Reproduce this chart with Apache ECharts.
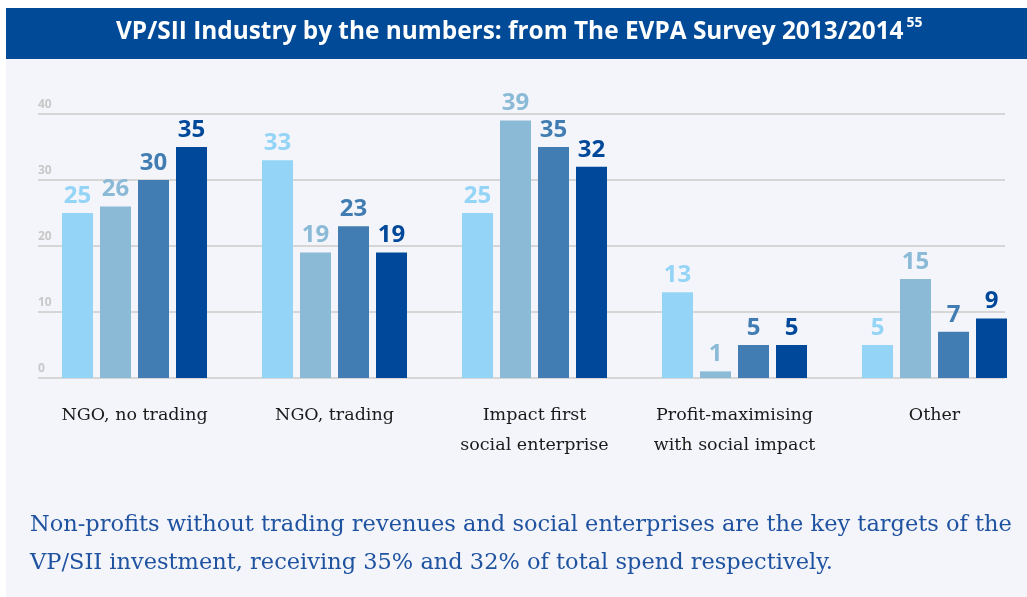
<!DOCTYPE html>
<html>
<head>
<meta charset="utf-8">
<script src="https://cdn.jsdelivr.net/npm/echarts@6/dist/echarts.min.js"></script>
<style>
  html, body { margin: 0; padding: 0; background: #fff; }
  #chart { width: 1027px; height: 597px; }
</style>
</head>
<body>
<div id="chart"></div>
<script>
// categories and values
var categories = ["NGO, no trading", "NGO, trading", "Impact first\nsocial enterprise", "Profit-maximising\nwith social impact", "Other"];
var seriesA = [25, 33, 25, 13, 5];
var seriesB = [26, 19, 39, 1, 15];
var seriesC = [30, 23, 35, 5, 7];
var seriesD = [35, 19, 32, 5, 9];
var barColors = ["#94d4f6", "#8bbad7", "#417db2", "#004899"];
var yTicks = [0, 10, 20, 30, 40];

var titleText = "VP/SII Industry by the numbers: from The EVPA Survey 2013/2014";
var titleNote = "55";
var footLine1 = "Non-profits without trading revenues and social enterprises are the key targets of the";
var footLine2 = "VP/SII investment, receiving 35% and 32% of total spend respectively.";

var myChart = echarts.init(document.getElementById("chart"));

function bar(name, data, idx) {
  return {
    name: name,
    type: "bar",
    xAxisIndex: 0,
    yAxisIndex: 0,
    barWidth: 31,
    barGap: "22.6%",
    data: data,
    itemStyle: { color: barColors[idx] },
    label: {
      show: true,
      position: "top",
      distance: 5,
      color: barColors[idx],
      fontFamily: "Open Sans",
      fontWeight: "bold",
      fontSize: 24
    }
  };
}

myChart.setOption({
  backgroundColor: "#ffffff",
  animation: false,
  graphic: [
    { type: "rect", z: -10, shape: { x: 6, y: 59, width: 1021, height: 538 }, style: { fill: "#f4f5fb" } },
    { type: "rect", z: -10, shape: { x: 6, y: 8, width: 1021, height: 51 }, style: { fill: "#004a98" } },
    {
      type: "text", left: 116, top: 16,
      style: {
        text: "{a|" + titleText + "}{s|" + titleNote + "}",
        rich: {
          a: { fontFamily: "Open Sans", fontWeight: "bold", fontSize: 24.4, fill: "#fff", lineHeight: 32 },
          s: { fontFamily: "Open Sans", fontWeight: "bold", fontSize: 14, fill: "#fff", verticalAlign: "top", lineHeight: 32, padding: [0, 0, 12, 3] }
        }
      }
    },
    {
      type: "text", left: 30, top: 514,
      style: { text: footLine1, fontFamily: "DejaVu Serif", fontSize: 22.5, fill: "#1f53a0" }
    },
    {
      type: "text", left: 30, top: 552,
      style: { text: footLine2, fontFamily: "DejaVu Serif", fontSize: 22.5, fill: "#1f53a0" }
    }
  ],
  grid: [
    { left: 34.5, width: 1000, top: 114, bottom: 219, outerBoundsMode: "none" },
    { left: 38, right: 22, top: 114, bottom: 219, outerBoundsMode: "none" }
  ],
  xAxis: [
    {
      type: "category", gridIndex: 0, data: categories,
      axisLine: { show: false }, axisTick: { show: false },
      axisLabel: {
        interval: 0, margin: 22, fontFamily: "DejaVu Serif", fontSize: 17.5, color: "#1a1a1a", lineHeight: 30
      }
    },
    { type: "category", gridIndex: 1, data: categories, show: false }
  ],
  yAxis: [
    { type: "value", gridIndex: 0, min: 0, max: 40, interval: 10, show: false },
    {
      type: "value", gridIndex: 1, min: yTicks[0], max: yTicks[yTicks.length - 1], interval: 10,
      axisLine: { show: false }, axisTick: { show: false },
      splitLine: { lineStyle: { color: "#d6d6d6", width: 2 } },
      axisLabel: {
        inside: true, margin: 0, verticalAlign: "bottom", padding: [0, 0, 3, 0],
        color: "#c8c8c8", fontFamily: "Open Sans", fontWeight: "bold", fontSize: 12
      }
    }
  ],
  series: [
    bar("A", seriesA, 0),
    bar("B", seriesB, 1),
    bar("C", seriesC, 2),
    bar("D", seriesD, 3)
  ]
});
</script>
</body>
</html>
